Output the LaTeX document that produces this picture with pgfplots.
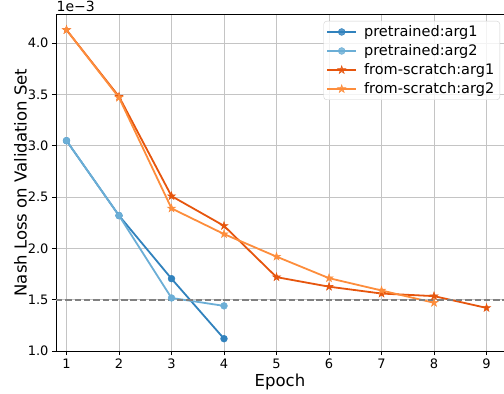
\documentclass[border=0pt]{standalone}
\usepackage{pgfplots}
\pgfplotsset{compat=1.18}
\usepackage{fontspec}
\setmainfont{DejaVu Sans}
\definecolor{pa1}{HTML}{3182BD}
\definecolor{pa2}{HTML}{6BAED6}
\definecolor{sa1}{HTML}{E6550D}
\definecolor{sa2}{HTML}{FD8D3C}
\definecolor{gridc}{HTML}{C4C4C4}
\definecolor{legc}{HTML}{D0D0D0}
\pgfdeclareplotmark{fstar}{%
  \pgfpathmoveto{\pgfpointpolar{90}{\pgfplotmarksize}}%
  \pgfpathlineto{\pgfpointpolar{126}{0.382\pgfplotmarksize}}%
  \pgfpathlineto{\pgfpointpolar{162}{\pgfplotmarksize}}%
  \pgfpathlineto{\pgfpointpolar{198}{0.382\pgfplotmarksize}}%
  \pgfpathlineto{\pgfpointpolar{234}{\pgfplotmarksize}}%
  \pgfpathlineto{\pgfpointpolar{270}{0.382\pgfplotmarksize}}%
  \pgfpathlineto{\pgfpointpolar{306}{\pgfplotmarksize}}%
  \pgfpathlineto{\pgfpointpolar{342}{0.382\pgfplotmarksize}}%
  \pgfpathlineto{\pgfpointpolar{18}{\pgfplotmarksize}}%
  \pgfpathlineto{\pgfpointpolar{54}{0.382\pgfplotmarksize}}%
  \pgfpathclose
  \pgfusepathqfillstroke
}
\begin{document}
\begin{tikzpicture}
\begin{axis}[
  name=ax,
  scale only axis,
  width=448pt, height=337pt,
  xmin=0.8, xmax=9.333,
  ymin=1.0, ymax=4.285,
  axis y line*=left,
  y axis line style={-},
  axis line style={line width=0.9pt},
  tick pos=left,
  tick align=outside,
  major tick length=4pt,
  every tick/.style={black, line width=0.9pt},
  xtick={1,2,3,4,5,6,7,8,9},
  ytick={1.0,1.5,2.0,2.5,3.0,3.5,4.0},
  yticklabel style={/pgf/number format/.cd, fixed, fixed zerofill, precision=1},
  /pgf/number format/assume math mode=true,
  tick label style={font=\fontsize{13}{15}\selectfont},
  grid=major,
  major grid style={color=gridc, line width=0.9pt},
  xlabel={Epoch},
  ylabel={Nash Loss on Validation Set},
  every axis x label/.style={at={([yshift=-35pt]rel axis cs:0.5,0)}, anchor=base, font=\fontsize{16.5}{19}\selectfont},
  every axis y label/.style={at={([xshift=-29pt]rel axis cs:0,0.5)}, rotate=90, anchor=south, inner sep=0pt, font=\fontsize{16.5}{19}\selectfont},
  legend style={
    at={([xshift=-4pt,yshift=-7pt]rel axis cs:1,1)}, anchor=north east,
    draw=legc, rounded corners=3pt, fill=white, fill opacity=0.8, text opacity=1,
    font=\fontsize{14.5}{17}\selectfont,
    inner xsep=2.6pt, inner ysep=2.5pt,
    row sep=2.5pt, column sep=4pt,
    nodes={inner xsep=3pt, inner ysep=2pt},
    cells={anchor=west},
  },
  legend image code/.code={%
    \draw[mark repeat=2, mark phase=2, #1] plot coordinates {(0pt,0pt) (14.5pt,0pt) (29pt,0pt)};
  },
]
\addplot[pa1, line width=1.8pt, mark=*, mark size=3.4pt, mark options={solid, line width=0.5pt}]
  coordinates {(1,3.05) (2,2.32) (3,1.705) (4,1.12)};
\addlegendentry{pretrained:arg1}
\addplot[pa2, line width=1.8pt, mark=*, mark size=3.4pt, mark options={solid, line width=0.5pt}]
  coordinates {(1,3.05) (2,2.32) (3,1.517) (4,1.44)};
\addlegendentry{pretrained:arg2}
\addplot[sa1, line width=1.8pt, mark=fstar, mark size=4.2pt, mark options={solid, line width=0.5pt}]
  coordinates {(1,4.13) (2,3.48) (3,2.51) (4,2.22) (5,1.72) (6,1.627) (7,1.56) (8,1.535) (9,1.42)};
\addlegendentry{from-scratch:arg1}
\addplot[sa2, line width=1.8pt, mark=fstar, mark size=4.2pt, mark options={solid, line width=0.5pt}]
  coordinates {(1,4.13) (2,3.47) (3,2.39) (4,2.14) (5,1.92) (6,1.71) (7,1.59) (8,1.47)};
\addlegendentry{from-scratch:arg2}
\addplot[forget plot, color=gray, line width=1.8pt, dash pattern=on 6.5pt off 2.8pt]
  coordinates {(0.8,1.5) (9.333,1.5)};
\end{axis}
\node[anchor=base west, inner sep=0pt, font=\fontsize{14}{16}\selectfont] at ([xshift=0.5pt,yshift=2.6pt]ax.north west) {1e−3};
\pgfresetboundingbox
\path ([shift={(-56pt,-43pt)}]ax.south west) rectangle ([shift={(0pt,14pt)}]ax.north east);
\end{tikzpicture}
\end{document}
